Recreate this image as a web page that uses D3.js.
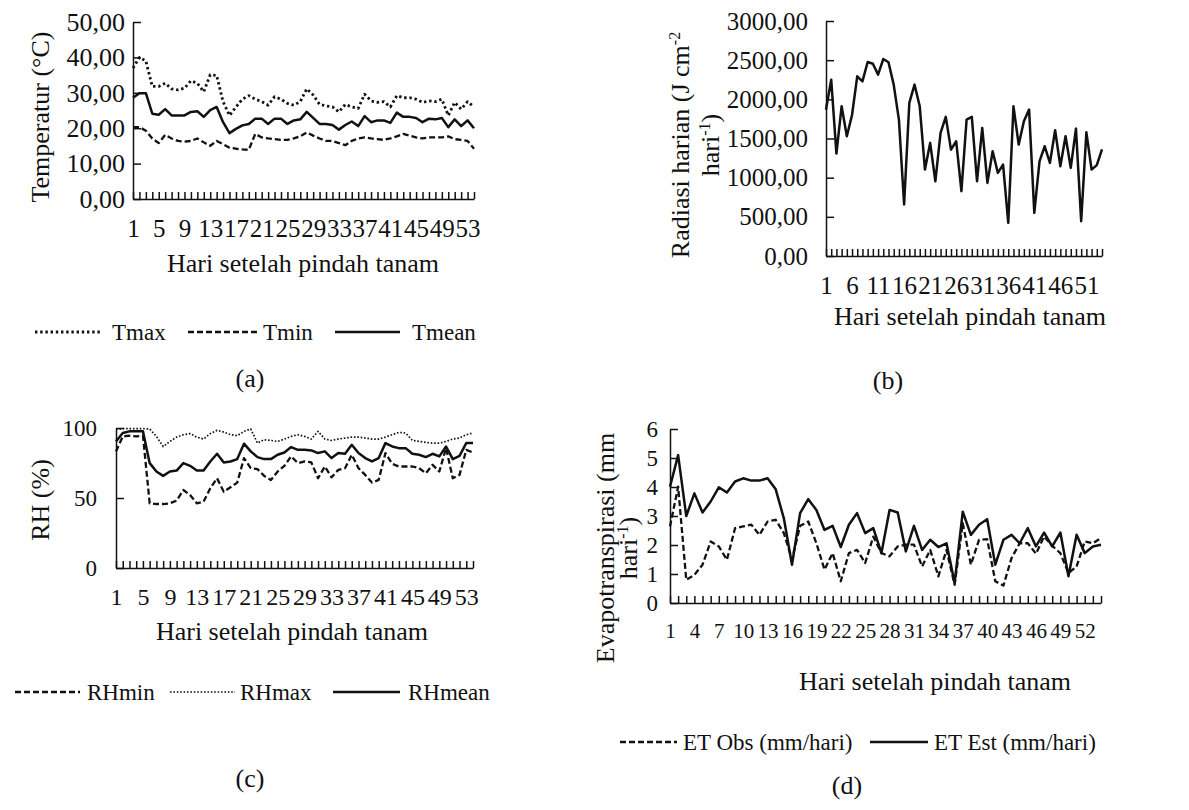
<!DOCTYPE html>
<html>
<head>
<meta charset="utf-8">
<script src="https://cdn.jsdelivr.net/npm/d3@7"></script>
<style>
  body { margin: 0; background: #fff; }
  text { font-family: "Liberation Serif", "Times New Roman", serif; fill: #111; }
</style>
</head>
<body>
<div id="container"></div>
<script>
/* DATA */
const days = d3.range(1, 55)

const tmax = [37, 40, 39, 31.8, 31.8, 32.7, 31.1, 30.8, 31.3, 33.4,
  32.7, 30.3, 35.1, 34.9, 27.5, 23.6, 26, 28.2, 29.2, 28.2,
  27.5, 26.5, 28.9, 28.2, 27, 26.5, 27.5, 31.1, 29.4, 26.7,
  26.3, 26, 24.6, 26.7, 26, 25.6, 29.6, 27.7, 27.3, 27.5,
  26, 29.2, 28.6, 28.6, 28.2, 27.3, 27.7, 27.5, 28.2, 23.6,
  27.3, 25.4, 27.5, 26]
const tmin = [20.3, 20.3, 19.3, 17.1, 15.8, 18.1, 17.1, 16.4, 16.2, 16.4,
  17.1, 16, 15, 16.4, 15.5, 14.5, 14.2, 14, 13.9, 18.4,
  17.4, 17.1, 16.9, 16.7, 16.7, 17.1, 17.7, 18.8, 17.9, 17.1,
  16.4, 16.4, 15.8, 15.2, 16.4, 17.1, 17.4, 17.1, 16.9, 16.7,
  17.1, 17.7, 18.4, 17.9, 17.4, 17.1, 17.4, 17.4, 17.4, 17.7,
  16.9, 16.7, 16.4, 14.2]
const tmean = [28.6, 29.9, 29.9, 24.1, 23.8, 25.4, 23.6, 23.6, 23.6, 24.6,
  24.8, 23.2, 25.1, 26, 21.7, 18.6, 19.8, 20.8, 21.2, 22.7,
  22.7, 21.2, 22.7, 22.7, 21.2, 22.2, 22.5, 24.6, 22.9, 21.2,
  21.2, 20.9, 19.6, 20.9, 21.9, 20.6, 23.4, 21.7, 22.2, 22.2,
  21.5, 24.4, 23.2, 23.2, 22.9, 21.7, 22.7, 22.5, 22.9, 20.3,
  22.5, 20.6, 22.2, 20]

const radiasi = [1869, 2251, 1307, 1911, 1528, 1800, 2294, 2230, 2477, 2455,
  2315, 2515, 2473, 2188, 1741, 657, 1954, 2188, 1911, 1103,
  1444, 954, 1571, 1776, 1358, 1465, 827, 1741, 1776, 954,
  1635, 933, 1337, 1061, 1167, 423, 1911, 1422, 1720, 1869,
  551, 1209, 1401, 1189, 1605, 1146, 1528, 1125, 1626, 444,
  1579, 1103, 1160, 1360]

const rhmin = [83.3, 94, 94.5, 94, 94.5, 46.2, 45.7, 45.7, 46.2, 48.1,
  55.7, 52.2, 46.2, 47.4, 56.9, 64.1, 54.5, 57.7, 61, 78.5,
  71.3, 70.6, 65.8, 62.9, 68.9, 73, 79.7, 74.9, 76.1, 75.4,
  64.1, 72.5, 64.8, 70.1, 71.3, 80.9, 71.3, 66.5, 61, 62.9,
  82.1, 74.4, 72.5, 72.5, 72.5, 71.3, 67.7, 73.7, 68.9, 85.6,
  64.1, 66.5, 84.4, 82.5]
const rhmax = [99, 99.5, 99.5, 99.5, 99.5, 99.3, 94, 86.8, 90.4, 93.5,
  95.2, 96, 93.5, 92.1, 96, 98.3, 97.1, 95.2, 94.5, 97.6,
  99.3, 89.2, 91.6, 91.1, 90.4, 92.1, 94, 95.2, 94, 92.1,
  97.6, 92.1, 91.1, 92.1, 92.8, 93.5, 93.5, 92.8, 92.1, 92.1,
  93.5, 95.2, 96.9, 96.4, 91.1, 90.4, 89.7, 89.2, 89.2, 90.4,
  92.1, 92.8, 95.2, 96.4]
const rhmean = [90.4, 96.4, 97.6, 97.6, 97.6, 74.9, 68.9, 65.8, 68.9, 69.6,
  74.9, 73, 69.6, 69.6, 76.1, 81.6, 75.4, 76.1, 77.8, 88.8,
  83.3, 79.2, 77.8, 77.8, 80.9, 82.5, 86.4, 84.4, 84.4, 84,
  82.1, 83.3, 78.5, 82.1, 81.6, 88, 82.1, 78.5, 76.1, 78.5,
  89.2, 86.8, 85.6, 85.6, 81.6, 80.9, 79.2, 81.6, 79.7, 86.8,
  77.8, 80.1, 89.2, 89.2]

const etObs = [2.64, 4.01, 0.8, 0.97, 1.32, 2.12, 1.95, 1.49, 2.58, 2.64,
  2.7, 2.35, 2.81, 2.87, 2.41, 1.5, 2.66, 2.81, 2.06, 1.15,
  1.72, 0.75, 1.72, 1.83, 1.38, 2.29, 1.72, 1.61, 1.95, 2.01,
  2.01, 1.26, 1.83, 0.92, 1.83, 0.63, 2.75, 1.32, 2.18, 2.2,
  0.75, 0.6, 1.55, 2.06, 2.06, 1.7, 2.29, 1.97, 1.72, 1.03,
  1.26, 2.12, 2.06, 2.24]
const etEst = [4.01, 5.1, 3.0, 3.78, 3.12, 3.5, 3.99, 3.81, 4.19, 4.3,
  4.22, 4.22, 4.3, 3.92, 2.92, 1.32, 3.1, 3.58, 3.21, 2.52,
  2.66, 1.93, 2.7, 3.1, 2.41, 2.58, 1.72, 3.21, 3.12, 1.78,
  2.66, 1.83, 2.18, 1.93, 2.06, 0.69, 3.15, 2.35, 2.7, 2.89,
  1.32, 2.18, 2.35, 2.06, 2.58, 1.95, 2.43, 1.95, 2.43, 0.92,
  2.35, 1.72, 1.95, 2.01]

const tempTicks = [0, 10, 20, 30, 40, 50]
const radTicks = [0, 500, 1000, 1500, 2000, 2500, 3000]
const rhTicks = [0, 50, 100]
const etTicks = [0, 1, 2, 3, 4, 5, 6]

/* CONSTANTS AND GLOBALS */
const width = 1189, height = 810
const ink = "#111"
const comma = d => d3.format(".2f")(d).replace(".", ",")

// line styles
const lineStyle = {
  solid: { dash: null, w: 2.5 },
  dash: { dash: "6,3", w: 2.3 },
  dotBig: { dash: "2.4,2.8", w: 2.8 },
  dotSmall: { dash: "1.6,1.8", w: 1.7 }
}

const svg = d3.select("#container")
  .append("svg")
  .attr("width", width)
  .attr("height", height)

function drawPanel(p) {
  const xScale = d3.scalePoint()
    .domain(days)
    .range([p.left, p.right])

  const yScale = d3.scaleLinear()
    .domain([p.yTicks[0], p.yTicks[p.yTicks.length - 1]])
    .range([p.bottom, p.top])

  // BUILD AND CALL AXES
  const xAxis = d3.axisBottom(xScale)
    .tickSize(-7)
    .tickSizeOuter(0)
    .tickPadding(20)
    .tickFormat(d => (d - 1) % p.step === 0 ? d : "")

  const gx = svg.append("g")
    .attr("transform", `translate(0,${p.bottom})`)
    .call(xAxis)

  const yAxis = d3.axisLeft(yScale)
    .tickValues(p.yTicks)
    .tickSize(-8)
    .tickSizeOuter(0)
    .tickPadding(p.yPad)
    .tickFormat(p.fmt)

  const gy = svg.append("g")
    .attr("transform", `translate(${p.left},0)`)
    .call(yAxis)

  ;[gx, gy].forEach(g => {
    g.attr("font-family", null).attr("font-size", null)
    g.selectAll("path, line").attr("stroke", ink).attr("stroke-width", 1.5)
  })
  gx.selectAll("text").attr("fill", ink).style("font-size", p.xFont + "px")
  gy.selectAll("text").attr("fill", ink).style("font-size", p.yFont + "px")

  // LINES
  const lineGen = d3.line()
    .x((d, i) => xScale(days[i]))
    .y(d => yScale(d))

  p.series.forEach(s => {
    const st = lineStyle[s.style]
    svg.append("path")
      .datum(s.values)
      .attr("fill", "none")
      .attr("stroke", ink)
      .attr("stroke-width", st.w)
      .attr("stroke-dasharray", st.dash)
      .attr("stroke-linejoin", "round")
      .attr("d", lineGen)
  })

  // x title
  svg.append("text")
    .attr("x", p.xTitle[0])
    .attr("y", p.xTitle[1])
    .attr("text-anchor", "middle")
    .style("font-size", "26px")
    .text("Hari setelah pindah tanam")

  // y title (one or two lines)
  p.yTitle.forEach(t => {
    const txt = svg.append("text")
      .attr("transform", `translate(${t.x},${p.yTitleY}) rotate(-90)`)
      .attr("text-anchor", "middle")
      .attr("dy", "0.35em")
      .style("font-size", "26px")
    txt.append("tspan").text(t.text)
    if (t.sup) {
      txt.append("tspan").attr("dy", -9).style("font-size", "16px").text(t.sup)
      if (t.after) txt.append("tspan").attr("dy", 9).text(t.after)
    }
  })

  // legend
  if (p.legend) {
    p.legend.items.forEach(it => {
      const st = lineStyle[it.style]
      svg.append("line")
        .attr("x1", it.x1).attr("x2", it.x2)
        .attr("y1", p.legend.y).attr("y2", p.legend.y)
        .attr("stroke", ink)
        .attr("stroke-width", st.w)
        .attr("stroke-dasharray", st.dash)
      svg.append("text")
        .attr("x", it.tx)
        .attr("y", p.legend.y)
        .attr("dy", "0.35em")
        .style("font-size", "23px")
        .text(it.label)
    })
  }

  // panel letter
  svg.append("text")
    .attr("x", p.letter[0])
    .attr("y", p.letter[1])
    .attr("dy", "0.35em")
    .attr("text-anchor", "middle")
    .style("font-size", "26px")
    .text(p.letter[2])
}

/* PANEL (a) */
drawPanel({
  left: 133, right: 474, top: 22, bottom: 199,
  yTicks: tempTicks, fmt: comma, yPad: 8, step: 4, xFont: 25, yFont: 26,
  series: [
    { values: tmax, style: "dotBig" },
    { values: tmin, style: "dash" },
    { values: tmean, style: "solid" }
  ],
  xTitle: [303, 272],
  yTitle: [{ x: 40, text: "Temperatur (°C)" }], yTitleY: 117,
  legend: {
    y: 332,
    items: [
      { label: "Tmax", style: "dotBig", x1: 35, x2: 100, tx: 112 },
      { label: "Tmin", style: "dash", x1: 188, x2: 257, tx: 263 },
      { label: "Tmean", style: "solid", x1: 335, x2: 400, tx: 412 }
    ]
  },
  letter: [250, 378, "(a)"]
})

/* PANEL (b) */
drawPanel({
  left: 826, right: 1102, top: 21, bottom: 256,
  yTicks: radTicks, fmt: comma, yPad: 18, step: 5, xFont: 25, yFont: 25,
  series: [{ values: radiasi, style: "solid" }],
  xTitle: [970, 325],
  yTitle: [
    { x: 680, text: "Radiasi harian (J cm", sup: "-2" },
    { x: 710, text: "hari", sup: "-1", after: ")" }
  ], yTitleY: 145,
  letter: [888, 380, "(b)"]
})

/* PANEL (c) */
drawPanel({
  left: 116, right: 473, top: 428, bottom: 568,
  yTicks: rhTicks, fmt: d3.format("d"), yPad: 19, step: 4, xFont: 24, yFont: 23,
  series: [
    { values: rhmax, style: "dotSmall" },
    { values: rhmin, style: "dash" },
    { values: rhmean, style: "solid" }
  ],
  xTitle: [292, 640],
  yTitle: [{ x: 40, text: "RH (%)" }], yTitleY: 500,
  legend: {
    y: 692,
    items: [
      { label: "RHmin", style: "dash", x1: 15, x2: 80, tx: 87 },
      { label: "RHmax", style: "dotSmall", x1: 170, x2: 235, tx: 240 },
      { label: "RHmean", style: "solid", x1: 333, x2: 400, tx: 408 }
    ]
  },
  letter: [250, 778, "(c)"]
})

/* PANEL (d) */
drawPanel({
  left: 670, right: 1101, top: 429, bottom: 603,
  yTicks: etTicks, fmt: d3.format("d"), yPad: 12, step: 3, xFont: 21, yFont: 23,
  series: [
    { values: etObs, style: "dash" },
    { values: etEst, style: "solid" }
  ],
  xTitle: [935, 690],
  yTitle: [
    { x: 605, text: "Evapotranspirasi (mm" },
    { x: 628, text: "hari", sup: "-1", after: ")" }
  ], yTitleY: 548,
  legend: {
    y: 742,
    items: [
      { label: "ET Obs (mm/hari)", style: "dash", x1: 620, x2: 677, tx: 683 },
      { label: "ET Est (mm/hari)", style: "solid", x1: 870, x2: 928, tx: 934 }
    ]
  },
  letter: [847, 785, "(d)"]
})
</script>
</body>
</html>
